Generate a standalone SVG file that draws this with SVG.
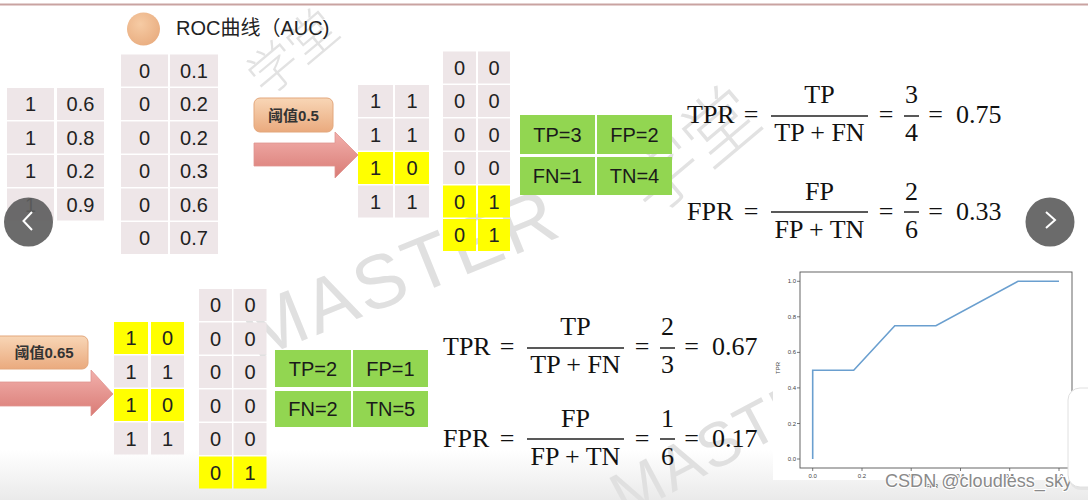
<svg xmlns="http://www.w3.org/2000/svg" width="1088" height="500" viewBox="0 0 1088 500">
<defs>
<linearGradient id="bgB" x1="0" y1="0" x2="0" y2="1"><stop offset="0" stop-color="#FFFFFF"/><stop offset="1" stop-color="#EAEAEA"/></linearGradient>
<linearGradient id="lab" x1="0" y1="0" x2="0" y2="1"><stop offset="0" stop-color="#F8D6B6"/><stop offset="1" stop-color="#EAAA7E"/></linearGradient>
<linearGradient id="arr" x1="0" y1="0" x2="0" y2="1"><stop offset="0" stop-color="#F2B0AC"/><stop offset="1" stop-color="#D97B75"/></linearGradient>
<radialGradient id="dot" cx="0.4" cy="0.35" r="0.7"><stop offset="0" stop-color="#F6CBA4"/><stop offset="1" stop-color="#E9AD80"/></radialGradient>
<style>
.c{fill:#EEE6E8}
.y{fill:#FFFF00}
.g{fill:#92D651}
.t{font-family:"Liberation Sans",Arial,sans-serif;font-size:20px;fill:#222;text-anchor:middle}
.gt{font-family:"Liberation Sans",Arial,sans-serif;font-size:20px;fill:#1a1a1a;text-anchor:middle}
.m{font-family:"Liberation Serif","Times New Roman",serif;font-size:26px;fill:#111}
.mc{font-family:"Liberation Serif","Times New Roman",serif;font-size:26px;fill:#111;text-anchor:middle}
.bar{stroke:#222;stroke-width:1.5}
.lb{font-family:"Liberation Sans",Arial,"Noto Sans CJK SC",sans-serif;font-size:15px;font-weight:bold;fill:#333;text-anchor:middle}
.wm{font-family:"Liberation Sans",Arial,sans-serif;fill:#E0E0E0}
.wc{font-family:"Noto Sans CJK SC",sans-serif;font-weight:300;fill:#E2E2E2}
.tk{font-family:"Liberation Sans",Arial,sans-serif;font-size:6px;fill:#444}
.nav{fill:#5E5E5E;fill-opacity:0.92}
.chev{fill:none;stroke:#FFFFFF;stroke-width:2}
</style>
</defs>

<rect x="0" y="0" width="1088" height="500" fill="#FFFFFF"/>
<rect x="0" y="450" width="1088" height="50" fill="url(#bgB)"/>
<line x1="0" y1="4.5" x2="1088" y2="4.5" stroke="#C9A3A1" stroke-width="2"/>

<g id="watermarks">
<text class="wc" font-size="50" transform="translate(266,98) rotate(-40)">学堂</text>
<text class="wc" font-size="74" transform="translate(652,218) rotate(-40)">学堂</text>
<text class="wm" font-size="76" letter-spacing="3" transform="translate(255,360) rotate(-22)">MASTER</text>
<text class="wm" font-size="62" letter-spacing="2" transform="translate(625,518) rotate(-28)">MASTER</text>
</g>

<g id="title">
<circle cx="143.5" cy="29" r="16.5" fill="url(#dot)"/>
<text x="176" y="35" font-family="'Liberation Sans',Arial,'Noto Sans CJK SC',sans-serif" font-size="20" fill="#222">ROC曲线（AUC)</text>
</g>

<g id="table-labels-scores">
<rect class="c" x="7" y="88" width="47" height="32"/><rect class="c" x="57" y="88" width="47" height="32"/>
<rect class="c" x="7" y="121.5" width="47" height="32"/><rect class="c" x="57" y="121.5" width="47" height="32"/>
<rect class="c" x="7" y="155" width="47" height="32"/><rect class="c" x="57" y="155" width="47" height="32"/>
<rect class="c" x="7" y="188.5" width="47" height="32"/><rect class="c" x="57" y="188.5" width="47" height="32"/>
<text class="t" x="30.5" y="111">1</text><text class="t" x="80.5" y="111">0.6</text>
<text class="t" x="30.5" y="144.5">1</text><text class="t" x="80.5" y="144.5">0.8</text>
<text class="t" x="30.5" y="178">1</text><text class="t" x="80.5" y="178">0.2</text>
<text class="t" x="30.5" y="211.5">1</text><text class="t" x="80.5" y="211.5">0.9</text>
</g>

<g id="table-negatives-scores">
<rect class="c" x="121" y="54.5" width="47" height="32"/><rect class="c" x="170" y="54.5" width="48" height="32"/>
<rect class="c" x="121" y="88" width="47" height="32"/><rect class="c" x="170" y="88" width="48" height="32"/>
<rect class="c" x="121" y="121.5" width="47" height="32"/><rect class="c" x="170" y="121.5" width="48" height="32"/>
<rect class="c" x="121" y="155" width="47" height="32"/><rect class="c" x="170" y="155" width="48" height="32"/>
<rect class="c" x="121" y="188.5" width="47" height="32"/><rect class="c" x="170" y="188.5" width="48" height="32"/>
<rect class="c" x="121" y="222" width="47" height="32"/><rect class="c" x="170" y="222" width="48" height="32"/>
<text class="t" x="144.5" y="77.5">0</text><text class="t" x="194" y="77.5">0.1</text>
<text class="t" x="144.5" y="111">0</text><text class="t" x="194" y="111">0.2</text>
<text class="t" x="144.5" y="144.5">0</text><text class="t" x="194" y="144.5">0.2</text>
<text class="t" x="144.5" y="178">0</text><text class="t" x="194" y="178">0.3</text>
<text class="t" x="144.5" y="211.5">0</text><text class="t" x="194" y="211.5">0.6</text>
<text class="t" x="144.5" y="245">0</text><text class="t" x="194" y="245">0.7</text>
</g>

<g id="threshold-05">
<rect x="254" y="98" width="79" height="34" rx="6" fill="url(#lab)" stroke="#E3A77C" stroke-width="1"/>
<text class="lb" x="293.5" y="121">阈值0.5</text>
</g>

<g id="table-pred05-pos">
<rect class="c" x="358" y="85" width="35" height="32"/><rect class="c" x="395" y="85" width="34" height="32"/>
<rect class="c" x="358" y="118.5" width="35" height="32"/><rect class="c" x="395" y="118.5" width="34" height="32"/>
<rect class="y" x="358" y="152" width="35" height="32"/><rect class="y" x="395" y="152" width="34" height="32"/>
<rect class="c" x="358" y="185.5" width="35" height="32"/><rect class="c" x="395" y="185.5" width="34" height="32"/>
<text class="t" x="375.5" y="108">1</text><text class="t" x="412" y="108">1</text>
<text class="t" x="375.5" y="141.5">1</text><text class="t" x="412" y="141.5">1</text>
<text class="t" x="375.5" y="175">1</text><text class="t" x="412" y="175">0</text>
<text class="t" x="375.5" y="208.5">1</text><text class="t" x="412" y="208.5">1</text>
</g>

<g id="table-pred05-neg">
<rect class="c" x="443" y="51.5" width="33" height="32"/><rect class="c" x="478" y="51.5" width="32" height="32"/>
<rect class="c" x="443" y="85" width="33" height="32"/><rect class="c" x="478" y="85" width="32" height="32"/>
<rect class="c" x="443" y="118.5" width="33" height="32"/><rect class="c" x="478" y="118.5" width="32" height="32"/>
<rect class="c" x="443" y="152" width="33" height="32"/><rect class="c" x="478" y="152" width="32" height="32"/>
<rect class="y" x="443" y="185.5" width="33" height="32"/><rect class="y" x="478" y="185.5" width="32" height="32"/>
<rect class="y" x="443" y="219" width="33" height="32"/><rect class="y" x="478" y="219" width="32" height="32"/>
<text class="t" x="459.5" y="74.5">0</text><text class="t" x="494" y="74.5">0</text>
<text class="t" x="459.5" y="108">0</text><text class="t" x="494" y="108">0</text>
<text class="t" x="459.5" y="141.5">0</text><text class="t" x="494" y="141.5">0</text>
<text class="t" x="459.5" y="175">0</text><text class="t" x="494" y="175">0</text>
<text class="t" x="459.5" y="208.5">0</text><text class="t" x="494" y="208.5">1</text>
<text class="t" x="459.5" y="242">0</text><text class="t" x="494" y="242">1</text>
</g>

<g id="confusion-05">
<rect class="g" x="520" y="115" width="75" height="39"/><rect class="g" x="597" y="115" width="75" height="39"/>
<rect class="g" x="520" y="157" width="75" height="38"/><rect class="g" x="597" y="157" width="75" height="38"/>
<text class="gt" x="557.5" y="141.5">TP=3</text><text class="gt" x="634.5" y="141.5">FP=2</text>
<text class="gt" x="557.5" y="183">FN=1</text><text class="gt" x="634.5" y="183">TN=4</text>
</g>

<g id="formula-05">
<text class="m" x="687" y="123">TPR</text>
<text class="mc" x="751" y="123">=</text>
<line class="bar" x1="771" y1="116" x2="868" y2="116"/>
<text class="mc" x="819.5" y="103">TP</text>
<text class="mc" x="819.5" y="141">TP + FN</text>
<text class="mc" x="886" y="123">=</text>
<line class="bar" x1="904" y1="116" x2="919" y2="116"/>
<text class="mc" x="911.5" y="103">3</text>
<text class="mc" x="911.5" y="141">4</text>
<text class="mc" x="935.5" y="123">=</text>
<text class="m" x="956" y="123">0.75</text>

<text class="m" x="687" y="220">FPR</text>
<text class="mc" x="751" y="220">=</text>
<line class="bar" x1="771" y1="212" x2="868" y2="212"/>
<text class="mc" x="819.5" y="200">FP</text>
<text class="mc" x="819.5" y="238">FP + TN</text>
<text class="mc" x="886" y="220">=</text>
<line class="bar" x1="904" y1="212" x2="919" y2="212"/>
<text class="mc" x="911.5" y="200">2</text>
<text class="mc" x="911.5" y="238">6</text>
<text class="mc" x="935.5" y="220">=</text>
<text class="m" x="956" y="220">0.33</text>
</g>

<g id="threshold-065">
<rect x="-10" y="336" width="98" height="33" rx="6" fill="url(#lab)" stroke="#E3A77C" stroke-width="1"/>
<text class="lb" x="44" y="358">阈值0.65</text>
</g>

<g id="table-pred065-pos">
<rect class="y" x="114" y="322" width="34" height="32"/><rect class="y" x="151" y="322" width="33" height="32"/>
<rect class="c" x="114" y="355.5" width="34" height="32"/><rect class="c" x="151" y="355.5" width="33" height="32"/>
<rect class="y" x="114" y="389" width="34" height="32"/><rect class="y" x="151" y="389" width="33" height="32"/>
<rect class="c" x="114" y="422.5" width="34" height="32"/><rect class="c" x="151" y="422.5" width="33" height="32"/>
<text class="t" x="131" y="345">1</text><text class="t" x="167.5" y="345">0</text>
<text class="t" x="131" y="378.5">1</text><text class="t" x="167.5" y="378.5">1</text>
<text class="t" x="131" y="412">1</text><text class="t" x="167.5" y="412">0</text>
<text class="t" x="131" y="445.5">1</text><text class="t" x="167.5" y="445.5">1</text>
</g>

<g id="table-pred065-neg">
<rect class="c" x="199" y="289" width="33" height="32"/><rect class="c" x="233.5" y="289" width="33" height="32"/>
<rect class="c" x="199" y="322.5" width="33" height="32"/><rect class="c" x="233.5" y="322.5" width="33" height="32"/>
<rect class="c" x="199" y="356" width="33" height="32"/><rect class="c" x="233.5" y="356" width="33" height="32"/>
<rect class="c" x="199" y="389.5" width="33" height="32"/><rect class="c" x="233.5" y="389.5" width="33" height="32"/>
<rect class="c" x="199" y="423" width="33" height="32"/><rect class="c" x="233.5" y="423" width="33" height="32"/>
<rect class="y" x="199" y="456.5" width="33" height="32"/><rect class="y" x="233.5" y="456.5" width="33" height="32"/>
<text class="t" x="215.5" y="312">0</text><text class="t" x="250" y="312">0</text>
<text class="t" x="215.5" y="345.5">0</text><text class="t" x="250" y="345.5">0</text>
<text class="t" x="215.5" y="379">0</text><text class="t" x="250" y="379">0</text>
<text class="t" x="215.5" y="412.5">0</text><text class="t" x="250" y="412.5">0</text>
<text class="t" x="215.5" y="446">0</text><text class="t" x="250" y="446">0</text>
<text class="t" x="215.5" y="479.5">0</text><text class="t" x="250" y="479.5">1</text>
</g>

<g id="confusion-065">
<rect class="g" x="275" y="350" width="76" height="37"/><rect class="g" x="353" y="350" width="75" height="37"/>
<rect class="g" x="275" y="391" width="76" height="36"/><rect class="g" x="353" y="391" width="75" height="36"/>
<text class="gt" x="313" y="375.5">TP=2</text><text class="gt" x="390.5" y="375.5">FP=1</text>
<text class="gt" x="313" y="416">FN=2</text><text class="gt" x="390.5" y="416">TN=5</text>
</g>

<g id="formula-065">
<text class="m" x="443" y="355">TPR</text>
<text class="mc" x="507" y="355">=</text>
<line class="bar" x1="527" y1="348" x2="624" y2="348"/>
<text class="mc" x="575.5" y="335">TP</text>
<text class="mc" x="575.5" y="373">TP + FN</text>
<text class="mc" x="642" y="355">=</text>
<line class="bar" x1="660" y1="348" x2="675" y2="348"/>
<text class="mc" x="667.5" y="335">2</text>
<text class="mc" x="667.5" y="373">3</text>
<text class="mc" x="691.5" y="355">=</text>
<text class="m" x="712" y="355">0.67</text>

<text class="m" x="443" y="447">FPR</text>
<text class="mc" x="507" y="447">=</text>
<line class="bar" x1="527" y1="439" x2="624" y2="439"/>
<text class="mc" x="575.5" y="427">FP</text>
<text class="mc" x="575.5" y="465">FP + TN</text>
<text class="mc" x="642" y="447">=</text>
<line class="bar" x1="660" y1="439" x2="675" y2="439"/>
<text class="mc" x="667.5" y="427">1</text>
<text class="mc" x="667.5" y="465">6</text>
<text class="mc" x="691.5" y="447">=</text>
<text class="m" x="712" y="447">0.17</text>
</g>

<g id="connectors">
<polygon points="254,143 335,143 335,132 358,155 335,178 335,166 254,166" fill="url(#arr)" stroke="#E09490" stroke-width="0.8"/>
<polygon points="-4,382 91,382 91,370 113,394 91,416 91,406 -4,406" fill="url(#arr)" stroke="#E09490" stroke-width="0.8"/>
</g>

<g id="roc-plot">
<rect x="773" y="262" width="303" height="218" fill="#FFFFFF"/>
<rect x="800" y="272" width="272" height="196" fill="none" stroke="#555" stroke-width="0.9"/>
<g stroke="#555" stroke-width="0.8">
<line x1="797" y1="459" x2="800" y2="459"/><line x1="797" y1="423.5" x2="800" y2="423.5"/><line x1="797" y1="387.9" x2="800" y2="387.9"/><line x1="797" y1="352.4" x2="800" y2="352.4"/><line x1="797" y1="316.8" x2="800" y2="316.8"/><line x1="797" y1="281.3" x2="800" y2="281.3"/>
<line x1="812.7" y1="468" x2="812.7" y2="471"/><line x1="862" y1="468" x2="862" y2="471"/><line x1="911.2" y1="468" x2="911.2" y2="471"/><line x1="960.5" y1="468" x2="960.5" y2="471"/><line x1="1009.7" y1="468" x2="1009.7" y2="471"/><line x1="1059" y1="468" x2="1059" y2="471"/>
</g>
<g class="tk" text-anchor="end">
<text x="796" y="461">0.0</text><text x="796" y="425.5">0.2</text><text x="796" y="390">0.4</text><text x="796" y="354.4">0.6</text><text x="796" y="318.8">0.8</text><text x="796" y="283.3">1.0</text>
</g>
<g class="tk" text-anchor="middle">
<text x="812.7" y="478">0.0</text><text x="862" y="478">0.2</text><text x="911.2" y="478">0.4</text><text x="960.5" y="478">0.6</text><text x="1009.7" y="478">0.8</text><text x="1059" y="478">1.0</text>
<text x="932" y="488">FPR</text>
</g>
<text class="tk" text-anchor="middle" transform="translate(780,368) rotate(-90)">TPR</text>
<polyline points="812.7,459 812.7,370.2 853.7,370.2 894.8,325.7 935.9,325.7 1018,281.3 1059,281.3" fill="none" stroke="#6A9FCF" stroke-width="1.6"/>
</g>

<g id="csdn-mark">
<text x="885" y="487" font-family="'Liberation Sans',Arial,sans-serif" font-size="19" textLength="187" lengthAdjust="spacingAndGlyphs" fill="#8A8A8A" stroke="#FFFFFF" stroke-width="2" paint-order="stroke">CSDN @cloudless_sky</text>
</g>

<g id="nav-prev">
<circle class="nav" cx="28.5" cy="222" r="24.5"/>
<polyline class="chev" points="32,212 23.5,221 32,230"/>
</g>
<g id="nav-next">
<circle class="nav" cx="1050" cy="222" r="24.5"/>
<polyline class="chev" points="1046,212 1055,220 1046,228"/>
</g>
<g id="side-panel">
<rect x="1069" y="390" width="40" height="100" rx="12" fill="#E4E4E4"/>
<rect x="1068" y="388" width="40" height="99" rx="12" fill="#FFFFFF" stroke="#E0E0E0" stroke-width="1"/>
</g>
</svg>
